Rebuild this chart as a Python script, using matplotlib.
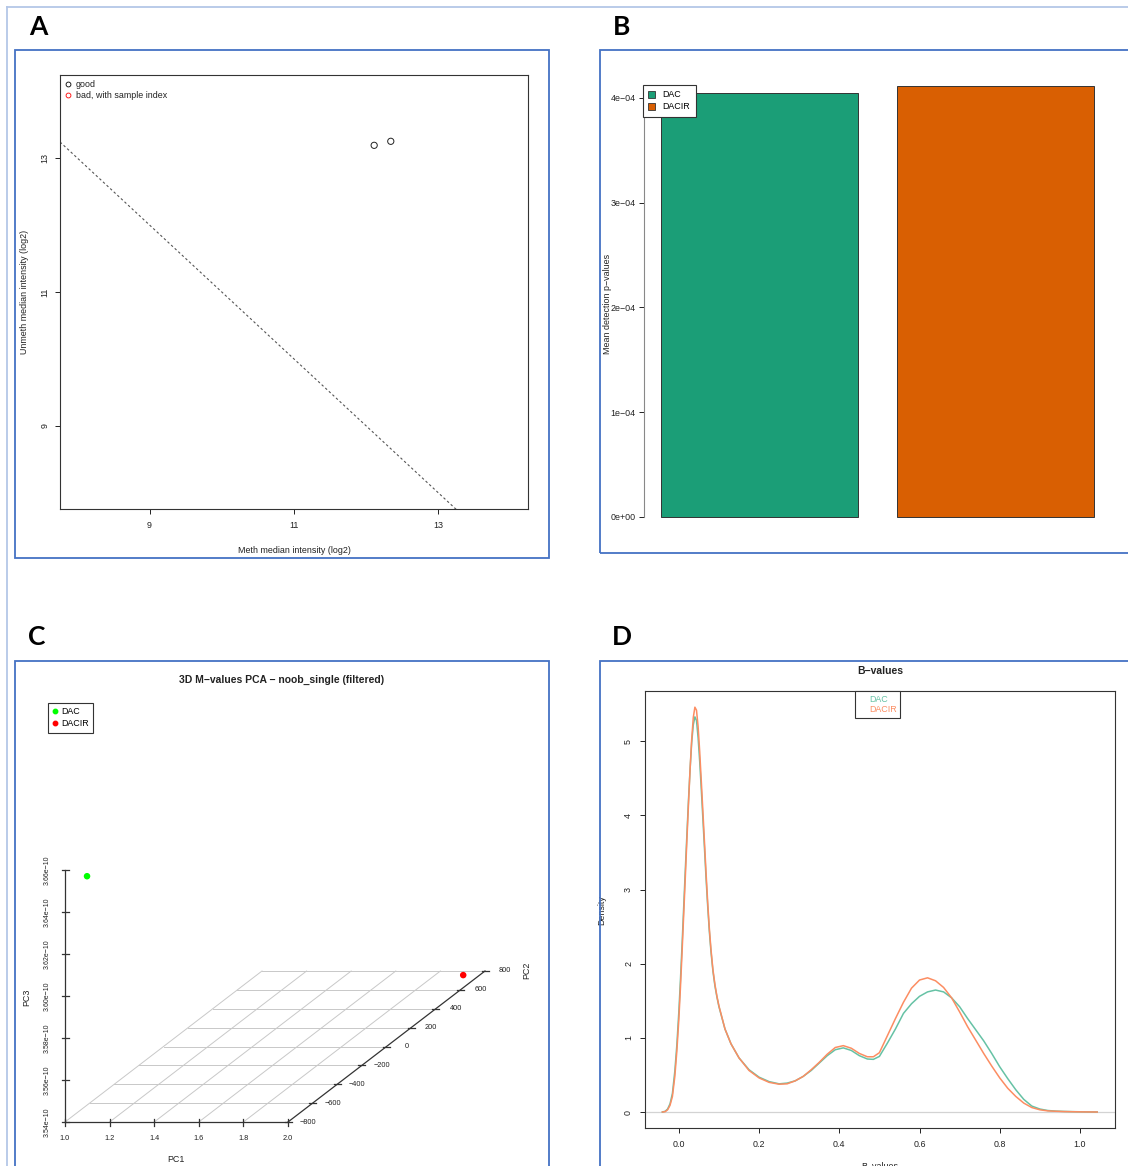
import numpy as np
import matplotlib.pyplot as plt
from matplotlib.patches import Rectangle, Patch
from matplotlib.lines import Line2D

plt.rcParams['font.family'] = ['Liberation Sans', 'DejaVu Sans']
plt.rcParams['axes.unicode_minus'] = True

W, H = 1128, 1166

# ---- A: QC plot (median intensities)
meth_median = [12.11, 12.34]
unmeth_median = [13.19, 13.25]
bad_cutoff = 10.5
qc_ticks = [9, 11, 13]
qc_lim = (7.76, 14.24)

# ---- B: mean detection p-values
groups = ['DAC', 'DACIR']
detp_means = [4.048e-4, 4.115e-4]
bar_colors = ['#1B9E77', '#D95F02']
detp_ticks = [0, 1e-4, 2e-4, 3e-4, 4e-4]
detp_labels = ['0e+00', '1e\u221204', '2e\u221204', '3e\u221204', '4e\u221204']

# ---- C: 3D PCA of M-values
pc1 = [1.0, 2.0]
pc2 = [-621, 623]
pc3 = [3.649e-10, 3.546e-10]
pca_colors = ['#00FF00', '#FF0000']
pc1_ticks = [1.0, 1.2, 1.4, 1.6, 1.8, 2.0]
pc2_ticks = [-800, -600, -400, -200, 0, 200, 400, 600, 800]
pc3_ticks = [3.54e-10, 3.56e-10, 3.58e-10, 3.60e-10, 3.62e-10, 3.64e-10, 3.66e-10]

# ---- D: density of beta values
bval_x = [-0.041, -0.034, -0.028, -0.022, -0.016, -0.010, -0.005, 0.000, 0.004, 0.008,
          0.012, 0.016, 0.020, 0.024, 0.028, 0.032, 0.036, 0.040, 0.044, 0.048,
          0.052, 0.056, 0.060, 0.064, 0.068, 0.072, 0.076, 0.080, 0.085, 0.090,
          0.095, 0.100, 0.115, 0.130, 0.150, 0.175, 0.200, 0.225, 0.250, 0.270,
          0.290, 0.310, 0.330, 0.350, 0.370, 0.390, 0.410, 0.430, 0.450, 0.470,
          0.485, 0.500, 0.520, 0.540, 0.560, 0.580, 0.600, 0.620, 0.640, 0.660,
          0.680, 0.700, 0.720, 0.740, 0.760, 0.780, 0.800, 0.820, 0.840, 0.860,
          0.880, 0.900, 0.920, 0.940, 0.960, 0.980, 1.000, 1.020, 1.043]
dens_dac = [0.00, 0.01, 0.04, 0.11, 0.25, 0.55, 0.90, 1.35, 1.78, 2.25,
            2.75, 3.25, 3.73, 4.20, 4.62, 4.98, 5.22, 5.33, 5.28, 5.05,
            4.73, 4.35, 3.95, 3.55, 3.14, 2.77, 2.44, 2.17, 1.90, 1.70,
            1.55, 1.42, 1.12, 0.92, 0.73, 0.57, 0.47, 0.41, 0.38, 0.39,
            0.42, 0.48, 0.56, 0.66, 0.76, 0.84, 0.865, 0.83, 0.76, 0.715,
            0.71, 0.75, 0.93, 1.12, 1.33, 1.46, 1.56, 1.62, 1.645, 1.62,
            1.54, 1.42, 1.26, 1.11, 0.96, 0.79, 0.61, 0.45, 0.30, 0.17,
            0.08, 0.04, 0.02, 0.012, 0.008, 0.005, 0.003, 0.001, 0.000]
dens_dacir = [0.00, 0.005, 0.03, 0.09, 0.21, 0.48, 0.82, 1.25, 1.68, 2.15,
              2.65, 3.15, 3.66, 4.15, 4.62, 5.02, 5.32, 5.46, 5.42, 5.20,
              4.86, 4.46, 4.05, 3.63, 3.21, 2.82, 2.48, 2.20, 1.92, 1.72,
              1.56, 1.43, 1.12, 0.92, 0.73, 0.56, 0.46, 0.40, 0.375, 0.38,
              0.42, 0.48, 0.57, 0.67, 0.78, 0.87, 0.895, 0.86, 0.79, 0.745,
              0.745, 0.80, 1.03, 1.26, 1.48, 1.67, 1.78, 1.81, 1.77, 1.68,
              1.54, 1.35, 1.15, 0.97, 0.79, 0.62, 0.46, 0.32, 0.21, 0.12,
              0.06, 0.03, 0.015, 0.01, 0.006, 0.004, 0.002, 0.001, 0.000]
dens_colors = ['#66C2A5', '#FC8D62']

TXT = '#222222'
FS = 6.4

fig = plt.figure(figsize=(W / 100, H / 100), dpi=100)


def px_axes(l, t, r, b):
    return fig.add_axes([l / W, 1 - b / H, (r - l) / W, (b - t) / H])


def px_text(x, y, s, **kw):
    return fig.text(x / W, 1 - y / H, s, **kw)


def px_rect(l, t, r, b, **kw):
    fig.add_artist(Rectangle((l / W, 1 - b / H), (r - l) / W, (b - t) / H,
                             transform=fig.transFigure, fill=False, **kw))


# page frame and panel boxes
fig.add_artist(Line2D([7 / W, 1], [1 - 7 / H, 1 - 7 / H], color='#B4C7E7', lw=1.3,
                      transform=fig.transFigure))
fig.add_artist(Line2D([7 / W, 7 / W], [0, 1 - 7 / H], color='#B4C7E7', lw=1.3,
                      transform=fig.transFigure))
for box in [(15, 50, 549, 558), (600, 50, 1140, 553), (15, 661, 549, 1180), (600, 661, 1140, 1180)]:
    px_rect(*box, edgecolor='#4472C4', lw=1.3)

for lab, x, y in [('A', 38, 27), ('B', 622, 27), ('C', 37, 637), ('D', 622, 637)]:
    px_text(x, y, lab, fontsize=19, fontweight='bold', family=['Lato', 'DejaVu Sans'],
            ha='center', va='center', color='black')


def style_axes(ax):
    for sp in ax.spines.values():
        sp.set_color('#333333')
        sp.set_linewidth(0.8)
    ax.tick_params(length=3.6, width=0.7, labelsize=FS, colors=TXT)


# ================= A =================
axA = px_axes(60, 75, 528, 509)
style_axes(axA)
axA.set_xlim(qc_lim)
axA.set_ylim(qc_lim)
axA.scatter(meth_median, unmeth_median, s=20, facecolors='none', edgecolors='#222222',
            linewidths=0.7, zorder=3)
lx = np.array(qc_lim)
axA.plot(lx, 2 * bad_cutoff - lx, ls=(0, (2.2, 2.2)), color='#555555', lw=0.8)
axA.set_xticks(qc_ticks)
axA.set_yticks(qc_ticks)
axA.tick_params(axis='x', pad=5)
axA.tick_params(axis='y', pad=4, labelrotation=90)
for t in axA.get_yticklabels():
    t.set_va('center')
axA.set_xlabel('Meth median intensity (log2)', fontsize=FS, color=TXT)
axA.set_ylabel('Unmeth median intensity (log2)', fontsize=FS, color=TXT)
axA.xaxis.set_label_coords(0.5, -0.085)
axA.yaxis.set_label_coords(-0.066, 0.5)
hA = [Line2D([], [], ls='none', marker='o', mfc='none', mec='black', ms=3.5, mew=0.6),
      Line2D([], [], ls='none', marker='o', mfc='none', mec='red', ms=3.5, mew=0.6)]
legA = axA.legend(hA, ['good', 'bad, with sample index'], loc='upper left', frameon=False,
                  fontsize=FS, handlelength=0.8, handletextpad=0.4, labelspacing=0.2,
                  borderaxespad=0.25, borderpad=0.3)
for t in legA.get_texts():
    t.set_color(TXT)

# ================= B =================
axB = px_axes(643.7, 68.7, 1111.7, 534.2)
style_axes(axB)
axB.bar([0.7, 1.9], detp_means, width=1.0, color=bar_colors, edgecolor='#333333', linewidth=0.7)
axB.set_xlim(0.112, 2.488)
axB.set_ylim(-0.04 * max(detp_means), 1.04 * max(detp_means))
for s in ['top', 'right', 'bottom']:
    axB.spines[s].set_visible(False)
axB.spines['left'].set_bounds(detp_ticks[0], detp_ticks[-1])
axB.spines['left'].set_color('#888888')
axB.set_xticks([])
axB.set_yticks(detp_ticks)
axB.set_yticklabels(detp_labels)
axB.tick_params(axis='y', pad=2)
axB.set_ylabel('Mean detection p\u2212values', fontsize=FS, color=TXT)
axB.yaxis.set_label_coords(-0.068, 0.495)
hB = [Patch(facecolor=c, edgecolor='#333333', lw=0.6) for c in bar_colors]
legB = axB.legend(hB, groups, loc='upper left', bbox_to_anchor=(643 / W, 1 - 85 / H),
                  bbox_transform=fig.transFigure, fontsize=FS, fancybox=False,
                  edgecolor='#333333', framealpha=1, handlelength=0.8, handleheight=0.8,
                  handletextpad=0.8, labelspacing=0.35, borderpad=0.6, borderaxespad=0)
legB.get_frame().set_linewidth(0.8)

# ================= C =================
axC = px_axes(15, 661, 549, 1166)
axC.set_xlim(15, 549)
axC.set_ylim(1166, 661)
axC.axis('off')

C_ORIGIN = (65.0, 1122.0)
C_X_PX = 223.0 / (pc1_ticks[-1] - pc1_ticks[0])
C_Y_PX = (197.0 / (pc2_ticks[-1] - pc2_ticks[0]), 151.0 / (pc2_ticks[-1] - pc2_ticks[0]))
C_Z_PX = 252.0 / (pc3_ticks[-1] - pc3_ticks[0])


def proj(x, y, z):
    x, y, z = np.asarray(x, float), np.asarray(y, float), np.asarray(z, float)
    px = C_ORIGIN[0] + (x - pc1_ticks[0]) * C_X_PX + (y - pc2_ticks[0]) * C_Y_PX[0]
    py = C_ORIGIN[1] - (z - pc3_ticks[0]) * C_Z_PX - (y - pc2_ticks[0]) * C_Y_PX[1]
    return px, py


z0 = pc3_ticks[0]
grid_kw = dict(color='#C8C8C8', lw=0.7, zorder=1)
for yv in pc2_ticks[1:]:
    gx, gy = proj([pc1_ticks[0], pc1_ticks[-1]], [yv, yv], [z0, z0])
    axC.plot(gx, gy, **grid_kw)
for xv in pc1_ticks[:-1]:
    gx, gy = proj([xv, xv], [pc2_ticks[0], pc2_ticks[-1]], [z0, z0])
    axC.plot(gx, gy, **grid_kw)

ax_kw = dict(color='#333333', lw=0.9, zorder=2)
# x axis
gx, gy = proj([pc1_ticks[0], pc1_ticks[-1]], [pc2_ticks[0]] * 2, [z0, z0])
axC.plot(gx, gy, **ax_kw)
for xv in pc1_ticks:
    tx, ty = proj(xv, pc2_ticks[0], z0)
    axC.plot([tx, tx], [ty - 3.5, ty + 3.5], **ax_kw)
    axC.text(tx, ty + 17, f'{xv:.1f}', fontsize=5.3, color=TXT, ha='center', va='center')
# z axis
gx, gy = proj([pc1_ticks[0]] * 2, [pc2_ticks[0]] * 2, [pc3_ticks[0], pc3_ticks[-1]])
axC.plot(gx, gy, **ax_kw)
for zv in pc3_ticks:
    tx, ty = proj(pc1_ticks[0], pc2_ticks[0], zv)
    axC.plot([tx - 3.5, tx + 3.5], [ty, ty], **ax_kw)
    axC.text(tx - 18, ty, f'{zv / 1e-10:.2f}e\u221210', fontsize=5.0, color=TXT,
             ha='center', va='center', rotation=90)
# y axis
gx, gy = proj([pc1_ticks[-1]] * 2, [pc2_ticks[0], pc2_ticks[-1]], [z0, z0])
axC.plot(gx, gy, **ax_kw)
for yv in pc2_ticks:
    tx, ty = proj(pc1_ticks[-1], yv, z0)
    axC.plot([tx - 3.5, tx + 3.5], [ty, ty], **ax_kw)
    axC.text(tx + 20, ty, f'{yv:d}'.replace('-', '\u2212'), fontsize=5.3, color=TXT,
             ha='center', va='center')

px_, py_ = proj(pc1, pc2, pc3)
axC.scatter(px_, py_, s=22, c=pca_colors, zorder=4, linewidths=0)
axC.text(176, 1160, 'PC1', fontsize=FS, color=TXT, ha='center', va='center')
axC.text(27, 997, 'PC3', fontsize=FS, color=TXT, ha='center', va='center', rotation=90)
axC.text(527, 970, 'PC2', fontsize=FS, color=TXT, ha='center', va='center', rotation=90)
axC.text(282, 680, '3D M\u2212values PCA \u2212 noob_single (filtered)', fontsize=7.5,
         fontweight='bold', color=TXT, ha='center', va='center')
hC = [Line2D([], [], ls='none', marker='o', mfc=c, mec=c, ms=3.2) for c in pca_colors]
legC = axC.legend(hC, groups, loc='upper left', bbox_to_anchor=(48 / W, 1 - 703 / H),
                  bbox_transform=fig.transFigure, fontsize=FS, fancybox=False,
                  edgecolor='#333333', framealpha=1, handlelength=0.6, handletextpad=0.4,
                  labelspacing=0.3, borderpad=0.5, borderaxespad=0)
legC.get_frame().set_linewidth(0.8)

# ================= D =================
axD = px_axes(645, 691, 1114.6, 1128.2)
style_axes(axD)
xr = bval_x[-1] - bval_x[0]
axD.set_xlim(bval_x[0] - 0.04 * xr, bval_x[-1] + 0.04 * xr)
ymax = max(max(dens_dac), max(dens_dacir))
axD.set_ylim(-0.04 * ymax, 1.04 * ymax)
axD.axhline(0, color='#D3D3D3', lw=0.9, zorder=1)
axD.plot(bval_x, dens_dac, color=dens_colors[0], lw=1.1, zorder=2)
axD.plot(bval_x, dens_dacir, color=dens_colors[1], lw=1.1, zorder=3)
axD.set_xticks([0.0, 0.2, 0.4, 0.6, 0.8, 1.0])
axD.set_xticklabels(['0.0', '0.2', '0.4', '0.6', '0.8', '1.0'])
axD.set_yticks([0, 1, 2, 3, 4, 5])
axD.tick_params(axis='x', pad=5)
axD.tick_params(axis='y', pad=5, labelrotation=90)
for t in axD.get_yticklabels():
    t.set_va('center')
axD.set_ylabel('Density', fontsize=FS, color=TXT)
axD.yaxis.set_label_coords(-0.082, 0.5)
axD.set_xlabel('B\u2212values', fontsize=FS, color=TXT)
axD.xaxis.set_label_coords(0.5, -0.078)
axD.set_title('B\u2212values', fontsize=7.5, fontweight='bold', color=TXT, pad=12)
hD = [Line2D([], [], alpha=0) for _ in groups]
legD = axD.legend(hD, groups, loc='upper left', bbox_to_anchor=(855 / W, 1 - 691 / H),
                  bbox_transform=fig.transFigure, fontsize=FS, fancybox=False,
                  edgecolor='#333333', framealpha=1, handlelength=0.8, handletextpad=0.3,
                  labelspacing=0.15, borderpad=0.45, borderaxespad=0,
                  labelcolor=dens_colors)
legD.get_frame().set_linewidth(0.8)

fig.savefig('out.png', dpi=100)
